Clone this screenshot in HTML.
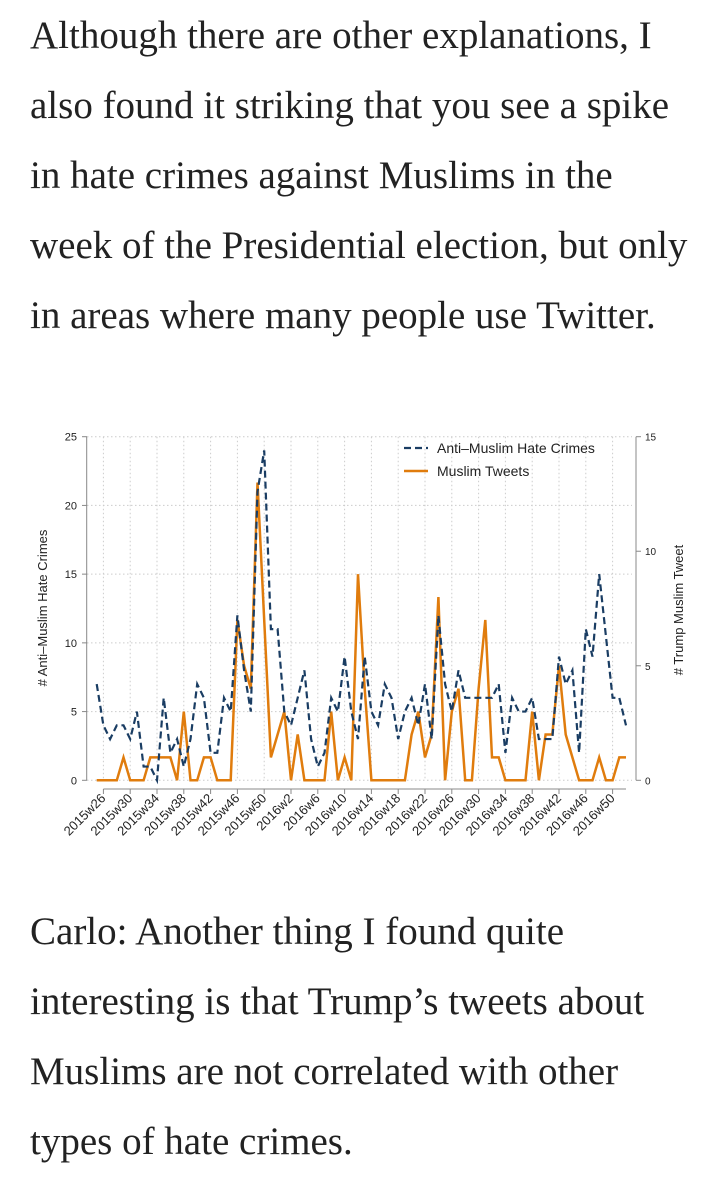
<!DOCTYPE html>
<html><head><meta charset="utf-8"><style>
body{margin:0;background:#fff;width:702px;height:1181px;overflow:hidden;position:relative}
p{position:absolute;left:30px;margin:0;font-family:"Liberation Serif",serif;font-size:39px;line-height:70px;color:#222;width:690px;white-space:nowrap}
svg{position:absolute;left:0;top:0}
</style></head><body>
<p style="top:1px">Although there are other explanations, I<br>also found it striking that you see a spike<br>in hate crimes against Muslims in the<br>week of the Presidential election, but only<br>in areas where many people use Twitter.</p>
<svg id="chart" width="702" height="880" viewBox="0 0 702 880" font-family="Liberation Sans, sans-serif"></svg>
<p style="top:897px">Carlo: Another thing I found quite<br>interesting is that Trump’s tweets about<br>Muslims are not correlated with other<br>types of hate crimes.</p>
<script>
const weekLabels=["2015w26","2015w30","2015w34","2015w38","2015w42","2015w46","2015w50","2016w2","2016w6","2016w10","2016w14","2016w18","2016w22","2016w26","2016w30","2016w34","2016w38","2016w42","2016w46","2016w50"];
const hateCrimes=[7,4,3,4,4,3,5,1,1,0,6,2,3,1,3,7,6,2,2,6,5,12,8,5,21,24,11,11,5,4,6,8,3,1,2,6,5,9,5,3,9,5,4,7,6,3,5,6,4,7,3,12,7,5,8,6,6,6,6,6,7,2,6,5,5,6,3,3,3,9,7,8,2,11,9,15,10.5,6,6,4];
const muslimTweets=[0,0,0,0,1,0,0,0,1,1,1,1,0,3,0,0,1,1,0,0,0,7,5,4,13,7,1,2,3,0,2,0,0,0,0,3,0,1,0,9,4,0,0,0,0,0,0,2,3,1,2,8,0,3,4,0,0,4,7,1,1,0,0,0,0,3,0,2,2,5,2,1,0,0,0,1,0,0,1,1];
const leftTicks=[0,5,10,15,20,25];
const rightTicks=[0,5,10,15];
const NS="http://www.w3.org/2000/svg";
const svg=document.getElementById('chart');
const x0=96.7,dx=6.7,yB=780.3,yT=436.7;
const xs=i=>x0+dx*i;
const yL=v=>yB-(yB-yT)*v/25;
const yR=v=>yB-(yB-yT)*v/15;
function mk(tag,attrs,parent){const e=document.createElementNS(NS,tag);for(const k in attrs)e.setAttribute(k,attrs[k]);(parent||svg).appendChild(e);return e;}
leftTicks.forEach(v=>{const l=mk('line',{x1:87,x2:632,y1:yL(v),y2:yL(v),stroke:'#ccc','stroke-dasharray':'1.5,2.5','stroke-width':1});


const tk=mk('line',{x1:82,x2:87,y1:yL(v),y2:yL(v),stroke:'#888'});


const t=mk('text',{x:77,y:yL(v)+4,'text-anchor':'end','font-size':11,fill:'#222'});t.textContent=v;

});
weekLabels.forEach((lab,k)=>{const i=k<7?1+4*k:29+4*(k-7);const x=xs(i);
const g=mk('line',{x1:x,x2:x,y1:yT,y2:yB,stroke:'#ccc','stroke-dasharray':'1.5,2.5'});


const tk=mk('line',{x1:x,x2:x,y1:789,y2:794,stroke:'#888'});


const t=mk('text',{x:x+3,y:799,'text-anchor':'end','font-size':13,fill:'#222',transform:`rotate(-45 ${x+3} 799)`});t.textContent=lab;

});
rightTicks.forEach(v=>{const tk=mk('line',{x1:636,x2:641,y1:yR(v),y2:yR(v),stroke:'#888'});


const t=mk('text',{x:645,y:yR(v)+4,'font-size':10,fill:'#222'});t.textContent=v;

});
const al=mk('line',{x1:86.7,x2:86.7,y1:yT,y2:yB,stroke:'#888'});


const ar=mk('line',{x1:636,x2:636,y1:yT,y2:yB,stroke:'#888'});


const ax=mk('line',{x1:xs(1),x2:xs(79),y1:789,y2:789,stroke:'#888'});


const lt=mk('text',{x:47,y:608,'text-anchor':'middle','font-size':13,fill:'#222',transform:'rotate(-90 47 608)'});lt.textContent='# Anti–Muslim Hate Crimes';


const rt=mk('text',{x:683,y:610,'text-anchor':'middle','font-size':13,fill:'#222',transform:'rotate(-90 683 610)'});rt.textContent='# Trump Muslim Tweet';


const ot=mk('polyline',{points:muslimTweets.map((v,i)=>xs(i)+','+yR(v)).join(' '),fill:'none',stroke:'#e07c0d','stroke-width':2.5,'stroke-linejoin':'miter'});


const bl=mk('polyline',{points:hateCrimes.map((v,i)=>xs(i)+','+yL(v)).join(' '),fill:'none',stroke:'#1a3d63','stroke-width':2.2,'stroke-dasharray':'7,4'});


const lg=mk('g',{});


const l1=mk('line',{x1:404,x2:428,y1:448,y2:448,stroke:'#1a3d63','stroke-width':2.2,'stroke-dasharray':'7,4'},lg);


const t1=mk('text',{x:437,y:453,'font-size':14,fill:'#222'},lg);t1.textContent='Anti–Muslim Hate Crimes';


const l2=mk('line',{x1:404,x2:428,y1:471,y2:471,stroke:'#e07c0d','stroke-width':2.5},lg);


const t2=mk('text',{x:437,y:476,'font-size':14,fill:'#222'},lg);t2.textContent='Muslim Tweets';


</script>
</body></html>
